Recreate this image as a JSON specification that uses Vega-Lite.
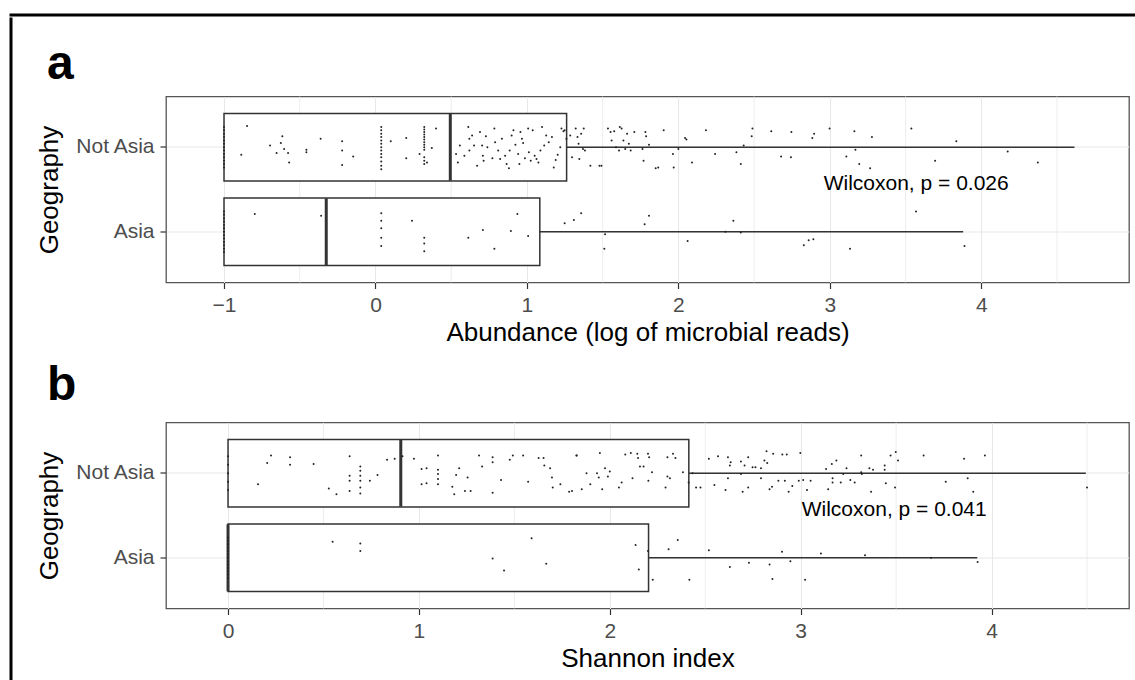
{
  "$schema": "https://vega.github.io/schema/vega-lite/v6.json",
  "background": "white",
  "padding": {"left": 8.5, "top": 12.5, "right": 0, "bottom": 0},
  "spacing": 0,
  "config": {
    "font": "Liberation Sans",
    "view": {"stroke": "#555555", "strokeWidth": 1.3},
    "axis": {
      "domain": false,
      "grid": true,
      "gridColor": "#e8e8e8",
      "gridWidth": 1.1,
      "tickColor": "#333333",
      "tickSize": 6,
      "tickWidth": 1.2,
      "labelColor": "#4d4d4d",
      "labelFontSize": 21,
      "labelPadding": 6,
      "titleFontSize": 26,
      "titleFontWeight": "normal",
      "titleColor": "black"
    }
  },
  "datasets": {
    "one": [{"k": 1}],
    "boxA": [
      {"g": "Not Asia", "q1": -1, "med": 0.494, "q3": 1.262, "hi": 4.615},
      {"g": "Asia", "q1": -1, "med": -0.325, "q3": 1.085, "hi": 3.88}
    ],
    "boxB": [
      {"g": "Not Asia", "q1": 0, "med": 0.905, "q3": 2.414, "hi": 4.494},
      {"g": "Asia", "q1": 0, "med": 0, "q3": 2.203, "hi": 3.925}
    ],
    "minorA": [{"v": -0.5}, {"v": 0.5}, {"v": 1.5}, {"v": 2.5}, {"v": 3.5}, {"v": 4.5}],
    "minorB": [{"v": 0.5}, {"v": 1.5}, {"v": 2.5}, {"v": 3.5}, {"v": 4.5}],
    "annA": [{"g": "Not Asia", "v": 3.57, "label": "Wilcoxon, p = 0.026"}],
    "annB": [{"g": "Not Asia", "v": 3.49, "label": "Wilcoxon, p = 0.041"}],
    "ptsA": [
      {"g": "Not Asia", "v": -1, "j": -0.24}, {"g": "Not Asia", "v": -1, "j": -0.2}, {"g": "Not Asia", "v": -1, "j": -0.16}, {"g": "Not Asia", "v": -1, "j": -0.12}, {"g": "Not Asia", "v": -1, "j": -0.08}, {"g": "Not Asia", "v": -1, "j": -0.04}, {"g": "Not Asia", "v": -1, "j": 0}, {"g": "Not Asia", "v": -1, "j": 0.04}, {"g": "Not Asia", "v": -1, "j": 0.08}, {"g": "Not Asia", "v": -1, "j": 0.12}, {"g": "Not Asia", "v": -1, "j": 0.16}, {"g": "Not Asia", "v": -1, "j": 0.2}, {"g": "Not Asia", "v": -1, "j": 0.24},
      {"g": "Not Asia", "v": -0.848, "j": -0.25}, {"g": "Not Asia", "v": -0.886, "j": 0.09}, {"g": "Not Asia", "v": -0.696, "j": -0.02}, {"g": "Not Asia", "v": -0.615, "j": -0.13}, {"g": "Not Asia", "v": -0.625, "j": -0.05}, {"g": "Not Asia", "v": -0.653, "j": 0.07}, {"g": "Not Asia", "v": -0.603, "j": 0.02}, {"g": "Not Asia", "v": -0.577, "j": 0.07}, {"g": "Not Asia", "v": -0.57, "j": 0.18}, {"g": "Not Asia", "v": -0.456, "j": 0.03}, {"g": "Not Asia", "v": -0.456, "j": 0.06}, {"g": "Not Asia", "v": -0.362, "j": -0.1}, {"g": "Not Asia", "v": -0.22, "j": -0.07}, {"g": "Not Asia", "v": -0.22, "j": 0.04}, {"g": "Not Asia", "v": -0.22, "j": 0.21}, {"g": "Not Asia", "v": -0.147, "j": 0.11},
      {"g": "Not Asia", "v": 0.038, "j": -0.24}, {"g": "Not Asia", "v": 0.038, "j": -0.2}, {"g": "Not Asia", "v": 0.038, "j": -0.16}, {"g": "Not Asia", "v": 0.038, "j": -0.12}, {"g": "Not Asia", "v": 0.038, "j": -0.08}, {"g": "Not Asia", "v": 0.038, "j": -0.04}, {"g": "Not Asia", "v": 0.038, "j": 0}, {"g": "Not Asia", "v": 0.038, "j": 0.04}, {"g": "Not Asia", "v": 0.038, "j": 0.08}, {"g": "Not Asia", "v": 0.038, "j": 0.12}, {"g": "Not Asia", "v": 0.038, "j": 0.17}, {"g": "Not Asia", "v": 0.038, "j": 0.22}, {"g": "Not Asia", "v": 0.038, "j": 0.26},
      {"g": "Not Asia", "v": 0.101, "j": -0.07}, {"g": "Not Asia", "v": 0.203, "j": -0.11}, {"g": "Not Asia", "v": 0.203, "j": 0.13}, {"g": "Not Asia", "v": 0.291, "j": 0.08},
      {"g": "Not Asia", "v": 0.322, "j": -0.24}, {"g": "Not Asia", "v": 0.322, "j": -0.21}, {"g": "Not Asia", "v": 0.322, "j": -0.18}, {"g": "Not Asia", "v": 0.322, "j": -0.15}, {"g": "Not Asia", "v": 0.322, "j": -0.12}, {"g": "Not Asia", "v": 0.322, "j": -0.09}, {"g": "Not Asia", "v": 0.322, "j": -0.06}, {"g": "Not Asia", "v": 0.322, "j": -0.03}, {"g": "Not Asia", "v": 0.322, "j": 0}, {"g": "Not Asia", "v": 0.322, "j": 0.03}, {"g": "Not Asia", "v": 0.322, "j": 0.12}, {"g": "Not Asia", "v": 0.322, "j": 0.16}, {"g": "Not Asia", "v": 0.322, "j": 0.2},
      {"g": "Not Asia", "v": 0.372, "j": 0.01}, {"g": "Not Asia", "v": 0.4, "j": -0.22}, {"g": "Not Asia", "v": 0.34, "j": 0.18},
      {"g": "Not Asia", "v": 0.532, "j": 0.08}, {"g": "Not Asia", "v": 0.544, "j": 0.18}, {"g": "Not Asia", "v": 0.557, "j": -0.02}, {"g": "Not Asia", "v": 0.613, "j": -0.24}, {"g": "Not Asia", "v": 0.62, "j": -0.1}, {"g": "Not Asia", "v": 0.62, "j": 0.04}, {"g": "Not Asia", "v": 0.638, "j": -0.14}, {"g": "Not Asia", "v": 0.651, "j": -0.02}, {"g": "Not Asia", "v": 0.704, "j": -0.02}, {"g": "Not Asia", "v": 0.709, "j": 0.1}, {"g": "Not Asia", "v": 0.714, "j": 0.16}, {"g": "Not Asia", "v": 0.729, "j": -0.13}, {"g": "Not Asia", "v": 0.739, "j": 0}, {"g": "Not Asia", "v": 0.785, "j": -0.22}, {"g": "Not Asia", "v": 0.79, "j": -0.06}, {"g": "Not Asia", "v": 0.81, "j": 0.04}, {"g": "Not Asia", "v": 0.823, "j": 0.14}, {"g": "Not Asia", "v": 0.856, "j": 0.1}, {"g": "Not Asia", "v": 0.866, "j": 0.2}, {"g": "Not Asia", "v": 0.881, "j": 0.25}, {"g": "Not Asia", "v": 0.899, "j": -0.14}, {"g": "Not Asia", "v": 0.911, "j": -0.2}, {"g": "Not Asia", "v": 0.924, "j": -0.03}, {"g": "Not Asia", "v": 0.942, "j": 0.08}, {"g": "Not Asia", "v": 0.957, "j": -0.18}, {"g": "Not Asia", "v": 0.967, "j": -0.1}, {"g": "Not Asia", "v": 0.975, "j": -0.05}, {"g": "Not Asia", "v": 0.987, "j": 0.13}, {"g": "Not Asia", "v": 1.008, "j": -0.22}, {"g": "Not Asia", "v": 1.013, "j": 0.06}, {"g": "Not Asia", "v": 1.025, "j": 0.16}, {"g": "Not Asia", "v": 1.038, "j": -0.2}, {"g": "Not Asia", "v": 1.051, "j": 0.1}, {"g": "Not Asia", "v": 1.063, "j": 0.14}, {"g": "Not Asia", "v": 1.076, "j": 0.18}, {"g": "Not Asia", "v": 1.114, "j": -0.02}, {"g": "Not Asia", "v": 1.127, "j": -0.14}, {"g": "Not Asia", "v": 1.144, "j": -0.06}, {"g": "Not Asia", "v": 1.165, "j": -0.12}, {"g": "Not Asia", "v": 1.177, "j": 0.24}, {"g": "Not Asia", "v": 1.203, "j": 0.09}, {"g": "Not Asia", "v": 1.228, "j": -0.22}, {"g": "Not Asia", "v": 1.241, "j": -0.19}, {"g": "Not Asia", "v": 1.261, "j": -0.1}, {"g": "Not Asia", "v": 0.671, "j": 0.22}, {"g": "Not Asia", "v": 0.835, "j": -0.1}, {"g": "Not Asia", "v": 0.587, "j": 0.1}, {"g": "Not Asia", "v": 0.772, "j": 0.13}, {"g": "Not Asia", "v": 0.886, "j": 0.04}, {"g": "Not Asia", "v": 1.089, "j": 0.04}, {"g": "Not Asia", "v": 1.22, "j": 0}, {"g": "Not Asia", "v": 0.95, "j": 0.2}, {"g": "Not Asia", "v": 1.1, "j": -0.24}, {"g": "Not Asia", "v": 0.69, "j": -0.18}, {"g": "Not Asia", "v": 1.19, "j": 0.15},
      {"g": "Not Asia", "v": 1.249, "j": -0.2}, {"g": "Not Asia", "v": 1.286, "j": -0.14}, {"g": "Not Asia", "v": 1.322, "j": -0.22}, {"g": "Not Asia", "v": 1.334, "j": -0.12}, {"g": "Not Asia", "v": 1.341, "j": -0.04}, {"g": "Not Asia", "v": 1.358, "j": -0.16}, {"g": "Not Asia", "v": 1.375, "j": -0.22}, {"g": "Not Asia", "v": 1.37, "j": 0.02}, {"g": "Not Asia", "v": 1.298, "j": 0.12}, {"g": "Not Asia", "v": 1.346, "j": 0.14}, {"g": "Not Asia", "v": 1.383, "j": 0.04}, {"g": "Not Asia", "v": 1.419, "j": 0.22}, {"g": "Not Asia", "v": 1.479, "j": 0.22}, {"g": "Not Asia", "v": 1.492, "j": 0.22}, {"g": "Not Asia", "v": 1.535, "j": -0.22}, {"g": "Not Asia", "v": 1.552, "j": -0.18}, {"g": "Not Asia", "v": 1.559, "j": -0.08}, {"g": "Not Asia", "v": 1.576, "j": -0.19}, {"g": "Not Asia", "v": 1.588, "j": 0}, {"g": "Not Asia", "v": 1.608, "j": 0.04}, {"g": "Not Asia", "v": 1.613, "j": -0.24}, {"g": "Not Asia", "v": 1.625, "j": -0.22}, {"g": "Not Asia", "v": 1.637, "j": -0.08}, {"g": "Not Asia", "v": 1.649, "j": 0.02}, {"g": "Not Asia", "v": 1.661, "j": -0.16}, {"g": "Not Asia", "v": 1.673, "j": -0.04}, {"g": "Not Asia", "v": 1.685, "j": 0.04}, {"g": "Not Asia", "v": 1.709, "j": -0.18}, {"g": "Not Asia", "v": 1.763, "j": 0.02}, {"g": "Not Asia", "v": 1.77, "j": 0.16}, {"g": "Not Asia", "v": 1.782, "j": -0.18}, {"g": "Not Asia", "v": 1.787, "j": -0.13}, {"g": "Not Asia", "v": 1.806, "j": -0.03}, {"g": "Not Asia", "v": 1.85, "j": 0.25}, {"g": "Not Asia", "v": 1.867, "j": 0.24}, {"g": "Not Asia", "v": 1.903, "j": -0.2}, {"g": "Not Asia", "v": 1.964, "j": 0.08}, {"g": "Not Asia", "v": 1.969, "j": 0.24}, {"g": "Not Asia", "v": 2.0, "j": 0.02}, {"g": "Not Asia", "v": 2.044, "j": -0.11}, {"g": "Not Asia", "v": 2.053, "j": -0.09}, {"g": "Not Asia", "v": 2.09, "j": 0.18}, {"g": "Not Asia", "v": 2.182, "j": -0.2}, {"g": "Not Asia", "v": 2.242, "j": 0.08}, {"g": "Not Asia", "v": 2.383, "j": 0.06}, {"g": "Not Asia", "v": 2.412, "j": 0.2}, {"g": "Not Asia", "v": 2.431, "j": -0.02}, {"g": "Not Asia", "v": 2.484, "j": -0.13}, {"g": "Not Asia", "v": 2.489, "j": -0.22}, {"g": "Not Asia", "v": 2.613, "j": -0.19}, {"g": "Not Asia", "v": 2.678, "j": 0.11}, {"g": "Not Asia", "v": 2.743, "j": 0.12}, {"g": "Not Asia", "v": 2.746, "j": -0.18}, {"g": "Not Asia", "v": 2.884, "j": -0.11}, {"g": "Not Asia", "v": 2.896, "j": -0.16}, {"g": "Not Asia", "v": 2.998, "j": -0.22}, {"g": "Not Asia", "v": 3.109, "j": 0.11}, {"g": "Not Asia", "v": 3.162, "j": -0.19}, {"g": "Not Asia", "v": 3.169, "j": 0.03}, {"g": "Not Asia", "v": 3.194, "j": 0.2}, {"g": "Not Asia", "v": 3.266, "j": 0.25}, {"g": "Not Asia", "v": 3.278, "j": -0.12}, {"g": "Not Asia", "v": 3.538, "j": -0.22}, {"g": "Not Asia", "v": 3.695, "j": 0.16}, {"g": "Not Asia", "v": 3.835, "j": -0.07}, {"g": "Not Asia", "v": 4.174, "j": 0.05}, {"g": "Not Asia", "v": 4.373, "j": 0.18},
      {"g": "Asia", "v": -1, "j": -0.24}, {"g": "Asia", "v": -1, "j": -0.2}, {"g": "Asia", "v": -1, "j": -0.16}, {"g": "Asia", "v": -1, "j": -0.12}, {"g": "Asia", "v": -1, "j": -0.08}, {"g": "Asia", "v": -1, "j": -0.04}, {"g": "Asia", "v": -1, "j": 0}, {"g": "Asia", "v": -1, "j": 0.04}, {"g": "Asia", "v": -1, "j": 0.08}, {"g": "Asia", "v": -1, "j": 0.12}, {"g": "Asia", "v": -1, "j": 0.16}, {"g": "Asia", "v": -1, "j": 0.2}, {"g": "Asia", "v": -1, "j": 0.24},
      {"g": "Asia", "v": -0.797, "j": -0.21}, {"g": "Asia", "v": -0.359, "j": -0.19}, {"g": "Asia", "v": 0.038, "j": -0.22}, {"g": "Asia", "v": 0.038, "j": -0.13}, {"g": "Asia", "v": 0.038, "j": -0.04}, {"g": "Asia", "v": 0.038, "j": 0.07}, {"g": "Asia", "v": 0.038, "j": 0.17}, {"g": "Asia", "v": 0.241, "j": -0.13}, {"g": "Asia", "v": 0.322, "j": 0.07}, {"g": "Asia", "v": 0.322, "j": 0.14}, {"g": "Asia", "v": 0.322, "j": 0.23}, {"g": "Asia", "v": 0.613, "j": 0.07}, {"g": "Asia", "v": 0.709, "j": -0.02}, {"g": "Asia", "v": 0.785, "j": 0.2}, {"g": "Asia", "v": 0.894, "j": -0.01}, {"g": "Asia", "v": 0.937, "j": -0.21}, {"g": "Asia", "v": 1.008, "j": 0.05},
      {"g": "Asia", "v": 1.249, "j": -0.1}, {"g": "Asia", "v": 1.31, "j": -0.14}, {"g": "Asia", "v": 1.358, "j": -0.22}, {"g": "Asia", "v": 1.516, "j": 0.03}, {"g": "Asia", "v": 1.511, "j": 0.2}, {"g": "Asia", "v": 1.777, "j": -0.09}, {"g": "Asia", "v": 1.806, "j": -0.19}, {"g": "Asia", "v": 2.061, "j": 0.11}, {"g": "Asia", "v": 2.31, "j": 0}, {"g": "Asia", "v": 2.363, "j": -0.13}, {"g": "Asia", "v": 2.412, "j": 0.01}, {"g": "Asia", "v": 2.828, "j": 0.16}, {"g": "Asia", "v": 2.86, "j": 0.1}, {"g": "Asia", "v": 2.891, "j": 0.09}, {"g": "Asia", "v": 3.133, "j": 0.2}, {"g": "Asia", "v": 3.569, "j": -0.24}, {"g": "Asia", "v": 3.889, "j": 0.17}
    ],
    "ptsB": [
      {"g": "Not Asia", "v": 0, "j": -0.2}, {"g": "Not Asia", "v": 0, "j": -0.1}, {"g": "Not Asia", "v": 0, "j": 0}, {"g": "Not Asia", "v": 0, "j": 0.1}, {"g": "Not Asia", "v": 0, "j": 0.2},
      {"g": "Not Asia", "v": 0.157, "j": 0.13}, {"g": "Not Asia", "v": 0.205, "j": -0.12}, {"g": "Not Asia", "v": 0.225, "j": -0.21}, {"g": "Not Asia", "v": 0.325, "j": -0.19}, {"g": "Not Asia", "v": 0.325, "j": -0.1}, {"g": "Not Asia", "v": 0.448, "j": -0.11}, {"g": "Not Asia", "v": 0.528, "j": 0.18}, {"g": "Not Asia", "v": 0.568, "j": 0.25}, {"g": "Not Asia", "v": 0.637, "j": -0.2}, {"g": "Not Asia", "v": 0.637, "j": 0.03}, {"g": "Not Asia", "v": 0.637, "j": 0.09}, {"g": "Not Asia", "v": 0.637, "j": 0.21}, {"g": "Not Asia", "v": 0.693, "j": -0.08}, {"g": "Not Asia", "v": 0.693, "j": -0.03}, {"g": "Not Asia", "v": 0.693, "j": 0.03}, {"g": "Not Asia", "v": 0.693, "j": 0.09}, {"g": "Not Asia", "v": 0.693, "j": 0.17}, {"g": "Not Asia", "v": 0.693, "j": 0.24}, {"g": "Not Asia", "v": 0.743, "j": 0.09}, {"g": "Not Asia", "v": 0.783, "j": 0.02}, {"g": "Not Asia", "v": 0.833, "j": -0.16}, {"g": "Not Asia", "v": 0.873, "j": -0.17}, {"g": "Not Asia", "v": 0.914, "j": -0.2}, {"g": "Not Asia", "v": 0.974, "j": -0.17}, {"g": "Not Asia", "v": 1.014, "j": -0.05}, {"g": "Not Asia", "v": 1.014, "j": 0.13}, {"g": "Not Asia", "v": 1.04, "j": -0.06}, {"g": "Not Asia", "v": 1.04, "j": 0.12}, {"g": "Not Asia", "v": 1.1, "j": -0.21}, {"g": "Not Asia", "v": 1.1, "j": -0.04}, {"g": "Not Asia", "v": 1.1, "j": 0.01}, {"g": "Not Asia", "v": 1.1, "j": 0.07}, {"g": "Not Asia", "v": 1.1, "j": 0.13}, {"g": "Not Asia", "v": 1.175, "j": 0.16}, {"g": "Not Asia", "v": 1.185, "j": 0.25}, {"g": "Not Asia", "v": 1.195, "j": 0.02}, {"g": "Not Asia", "v": 1.211, "j": -0.06}, {"g": "Not Asia", "v": 1.241, "j": 0.21}, {"g": "Not Asia", "v": 1.255, "j": 0.05}, {"g": "Not Asia", "v": 1.271, "j": 0.21}, {"g": "Not Asia", "v": 1.315, "j": -0.21}, {"g": "Not Asia", "v": 1.331, "j": -0.08}, {"g": "Not Asia", "v": 1.386, "j": -0.19}, {"g": "Not Asia", "v": 1.386, "j": -0.13}, {"g": "Not Asia", "v": 1.386, "j": 0.23}, {"g": "Not Asia", "v": 1.43, "j": 0.08}, {"g": "Not Asia", "v": 1.476, "j": -0.16}, {"g": "Not Asia", "v": 1.492, "j": -0.21}, {"g": "Not Asia", "v": 1.546, "j": -0.21}, {"g": "Not Asia", "v": 1.572, "j": 0.1}, {"g": "Not Asia", "v": 1.627, "j": -0.18}, {"g": "Not Asia", "v": 1.653, "j": -0.18}, {"g": "Not Asia", "v": 1.657, "j": -0.09}, {"g": "Not Asia", "v": 1.687, "j": -0.06}, {"g": "Not Asia", "v": 1.697, "j": 0.05}, {"g": "Not Asia", "v": 1.701, "j": 0.17}, {"g": "Not Asia", "v": 1.741, "j": 0.13}, {"g": "Not Asia", "v": 1.787, "j": 0.22}, {"g": "Not Asia", "v": 1.827, "j": -0.21}, {"g": "Not Asia", "v": 1.853, "j": 0.19}, {"g": "Not Asia", "v": 1.878, "j": 0}, {"g": "Not Asia", "v": 1.898, "j": 0.13}, {"g": "Not Asia", "v": 1.948, "j": -0.24},
      {"g": "Not Asia", "v": 1.802, "j": 0.21}, {"g": "Not Asia", "v": 1.825, "j": -0.21}, {"g": "Not Asia", "v": 1.933, "j": 0}, {"g": "Not Asia", "v": 1.942, "j": 0.05},
      {"g": "Not Asia", "v": 1.96, "j": 0.19}, {"g": "Not Asia", "v": 1.975, "j": -0.06}, {"g": "Not Asia", "v": 1.99, "j": 0.04}, {"g": "Not Asia", "v": 2.0, "j": -0.02}, {"g": "Not Asia", "v": 2.048, "j": 0.17}, {"g": "Not Asia", "v": 2.062, "j": 0.11}, {"g": "Not Asia", "v": 2.081, "j": -0.22}, {"g": "Not Asia", "v": 2.11, "j": -0.24}, {"g": "Not Asia", "v": 2.119, "j": 0.06}, {"g": "Not Asia", "v": 2.144, "j": -0.23}, {"g": "Not Asia", "v": 2.148, "j": -0.18}, {"g": "Not Asia", "v": 2.158, "j": -0.08}, {"g": "Not Asia", "v": 2.177, "j": -0.08}, {"g": "Not Asia", "v": 2.2, "j": -0.23}, {"g": "Not Asia", "v": 2.202, "j": 0.09}, {"g": "Not Asia", "v": 2.206, "j": -0.19}, {"g": "Not Asia", "v": 2.221, "j": -0.01}, {"g": "Not Asia", "v": 2.292, "j": 0.17}, {"g": "Not Asia", "v": 2.302, "j": -0.19}, {"g": "Not Asia", "v": 2.302, "j": 0.04}, {"g": "Not Asia", "v": 2.315, "j": 0.06}, {"g": "Not Asia", "v": 2.331, "j": -0.23}, {"g": "Not Asia", "v": 2.344, "j": -0.18}, {"g": "Not Asia", "v": 2.383, "j": -0.01}, {"g": "Not Asia", "v": 2.413, "j": 0.11}, {"g": "Not Asia", "v": 2.433, "j": 0}, {"g": "Not Asia", "v": 2.452, "j": 0.17}, {"g": "Not Asia", "v": 2.475, "j": 0.17}, {"g": "Not Asia", "v": 2.519, "j": -0.17}, {"g": "Not Asia", "v": 2.548, "j": 0.14}, {"g": "Not Asia", "v": 2.567, "j": -0.2}, {"g": "Not Asia", "v": 2.606, "j": 0.2}, {"g": "Not Asia", "v": 2.619, "j": -0.19}, {"g": "Not Asia", "v": 2.619, "j": 0.06}, {"g": "Not Asia", "v": 2.629, "j": -0.09}, {"g": "Not Asia", "v": 2.633, "j": -0.13}, {"g": "Not Asia", "v": 2.687, "j": -0.14}, {"g": "Not Asia", "v": 2.687, "j": 0.01}, {"g": "Not Asia", "v": 2.696, "j": 0.22}, {"g": "Not Asia", "v": 2.706, "j": -0.09}, {"g": "Not Asia", "v": 2.725, "j": -0.19}, {"g": "Not Asia", "v": 2.725, "j": 0.17}, {"g": "Not Asia", "v": 2.748, "j": -0.07}, {"g": "Not Asia", "v": 2.763, "j": -0.07}, {"g": "Not Asia", "v": 2.792, "j": -0.06}, {"g": "Not Asia", "v": 2.792, "j": 0.06}, {"g": "Not Asia", "v": 2.81, "j": -0.15}, {"g": "Not Asia", "v": 2.821, "j": -0.26}, {"g": "Not Asia", "v": 2.825, "j": -0.12}, {"g": "Not Asia", "v": 2.837, "j": 0.19}, {"g": "Not Asia", "v": 2.85, "j": 0.16}, {"g": "Not Asia", "v": 2.856, "j": -0.23}, {"g": "Not Asia", "v": 2.883, "j": 0.09}, {"g": "Not Asia", "v": 2.904, "j": -0.22}, {"g": "Not Asia", "v": 2.917, "j": 0.09}, {"g": "Not Asia", "v": 2.927, "j": -0.22}, {"g": "Not Asia", "v": 2.937, "j": 0.22}, {"g": "Not Asia", "v": 2.956, "j": 0.15}, {"g": "Not Asia", "v": 2.99, "j": 0.09}, {"g": "Not Asia", "v": 2.998, "j": -0.24}, {"g": "Not Asia", "v": 3.013, "j": 0.08}, {"g": "Not Asia", "v": 3.033, "j": 0.2}, {"g": "Not Asia", "v": 3.052, "j": 0.09}, {"g": "Not Asia", "v": 3.133, "j": -0.05}, {"g": "Not Asia", "v": 3.144, "j": 0.19}, {"g": "Not Asia", "v": 3.163, "j": -0.11}, {"g": "Not Asia", "v": 3.167, "j": 0.06}, {"g": "Not Asia", "v": 3.167, "j": 0.11}, {"g": "Not Asia", "v": 3.187, "j": -0.15}, {"g": "Not Asia", "v": 3.21, "j": 0.11}, {"g": "Not Asia", "v": 3.223, "j": 0.01}, {"g": "Not Asia", "v": 3.24, "j": -0.06}, {"g": "Not Asia", "v": 3.26, "j": 0.08}, {"g": "Not Asia", "v": 3.283, "j": 0.11}, {"g": "Not Asia", "v": 3.317, "j": -0.21}, {"g": "Not Asia", "v": 3.317, "j": -0.01}, {"g": "Not Asia", "v": 3.321, "j": 0.01}, {"g": "Not Asia", "v": 3.36, "j": -0.06}, {"g": "Not Asia", "v": 3.369, "j": 0.22}, {"g": "Not Asia", "v": 3.379, "j": -0.04}, {"g": "Not Asia", "v": 3.44, "j": -0.09}, {"g": "Not Asia", "v": 3.44, "j": -0.04}, {"g": "Not Asia", "v": 3.446, "j": 0.12}, {"g": "Not Asia", "v": 3.471, "j": -0.21}, {"g": "Not Asia", "v": 3.494, "j": 0.17}, {"g": "Not Asia", "v": 3.498, "j": -0.25}, {"g": "Not Asia", "v": 3.51, "j": -0.15}, {"g": "Not Asia", "v": 3.644, "j": -0.21}, {"g": "Not Asia", "v": 3.76, "j": 0.1}, {"g": "Not Asia", "v": 3.856, "j": -0.17}, {"g": "Not Asia", "v": 3.875, "j": 0.06}, {"g": "Not Asia", "v": 3.904, "j": 0.22}, {"g": "Not Asia", "v": 3.965, "j": -0.21}, {"g": "Not Asia", "v": 4.5, "j": 0.17},
      {"g": "Asia", "v": 0, "j": -0.24}, {"g": "Asia", "v": 0, "j": -0.2}, {"g": "Asia", "v": 0, "j": -0.16}, {"g": "Asia", "v": 0, "j": -0.12}, {"g": "Asia", "v": 0, "j": -0.08}, {"g": "Asia", "v": 0, "j": -0.04}, {"g": "Asia", "v": 0, "j": 0}, {"g": "Asia", "v": 0, "j": 0.04}, {"g": "Asia", "v": 0, "j": 0.08}, {"g": "Asia", "v": 0, "j": 0.12}, {"g": "Asia", "v": 0, "j": 0.16}, {"g": "Asia", "v": 0, "j": 0.2}, {"g": "Asia", "v": 0, "j": 0.24},
      {"g": "Asia", "v": 0.548, "j": -0.19}, {"g": "Asia", "v": 0.693, "j": -0.17}, {"g": "Asia", "v": 0.693, "j": -0.08}, {"g": "Asia", "v": 1.386, "j": 0.01}, {"g": "Asia", "v": 1.446, "j": 0.15}, {"g": "Asia", "v": 1.59, "j": -0.23}, {"g": "Asia", "v": 1.667, "j": 0.07},
      {"g": "Asia", "v": 2.135, "j": -0.15}, {"g": "Asia", "v": 2.152, "j": 0.14}, {"g": "Asia", "v": 2.2, "j": -0.08}, {"g": "Asia", "v": 2.225, "j": 0.26}, {"g": "Asia", "v": 2.308, "j": -0.1}, {"g": "Asia", "v": 2.356, "j": -0.21}, {"g": "Asia", "v": 2.417, "j": 0.26}, {"g": "Asia", "v": 2.519, "j": -0.09}, {"g": "Asia", "v": 2.629, "j": 0.11}, {"g": "Asia", "v": 2.729, "j": 0.06}, {"g": "Asia", "v": 2.837, "j": 0.08}, {"g": "Asia", "v": 2.852, "j": 0.25}, {"g": "Asia", "v": 2.902, "j": -0.07}, {"g": "Asia", "v": 2.946, "j": 0.04}, {"g": "Asia", "v": 3.023, "j": 0.26}, {"g": "Asia", "v": 3.106, "j": -0.05}, {"g": "Asia", "v": 3.337, "j": -0.03}, {"g": "Asia", "v": 3.683, "j": 0}, {"g": "Asia", "v": 3.927, "j": 0.05}
    ]
  },
  "vconcat": [
    {
      "width": 1127,
      "height": 3,
      "view": {"fill": "black", "stroke": null},
      "data": {"name": "one"},
      "mark": {"type": "rule", "opacity": 0},
      "encoding": {}
    },
    {
      "spacing": 22.5,
      "hconcat": [
        {
          "width": 3,
          "height": 670,
          "view": {"fill": "black", "stroke": null},
          "data": {"name": "one"},
          "mark": {"type": "rule", "opacity": 0},
          "encoding": {}
        },
        {
          "spacing": 14,
          "vconcat": [
            {
              "width": 10,
              "height": 7.5,
              "view": {"fill": null, "stroke": null},
              "data": {"name": "one"},
              "mark": {"type": "rule", "opacity": 0},
              "encoding": {}
            },
            {
              "width": 963,
              "height": 186,
              "title": {"text": "a", "anchor": "start", "frame": "group", "fontSize": 48, "fontWeight": "bold", "baseline": "alphabetic", "offset": -31, "dx": -119, "color": "black"},
              "resolve": {"scale": {"yOffset": "independent"}},
              "layer": [
                {
                  "data": {"name": "minorA"},
                  "mark": {"type": "rule", "color": "#e8e8e8", "strokeWidth": 0.8},
                  "encoding": {
                    "x": {"field": "v", "type": "quantitative", "scale": {"domain": [-1.383, 4.975], "nice": false, "zero": false},
                          "axis": {"values": [-1, 0, 1, 2, 3, 4], "format": "d", "title": "Abundance (log of microbial reads)", "titlePadding": 4}}
                  }
                },
                {
                  "data": {"name": "boxA"},
                  "mark": {"type": "rule", "color": "#333333", "strokeWidth": 1.4},
                  "encoding": {
                    "x": {"field": "q3", "type": "quantitative"},
                    "x2": {"field": "hi"},
                    "y": {"field": "g", "type": "nominal", "sort": ["Not Asia", "Asia"], "scale": {"type": "band", "paddingInner": 0.2, "paddingOuter": 0.2},
                          "axis": {"title": "Geography", "bandPosition": 0.5, "titlePadding": 12}}
                  }
                },
                {
                  "data": {"name": "boxA"},
                  "mark": {"type": "bar", "fill": "white", "stroke": "#333333", "strokeWidth": 1.5},
                  "encoding": {
                    "x": {"field": "q1", "type": "quantitative"},
                    "x2": {"field": "q3"},
                    "y": {"field": "g", "type": "nominal", "sort": ["Not Asia", "Asia"]}
                  }
                },
                {
                  "data": {"name": "boxA"},
                  "mark": {"type": "tick", "color": "#333333", "size": 67, "thickness": 3, "opacity": 1},
                  "encoding": {
                    "x": {"field": "med", "type": "quantitative"},
                    "y": {"field": "g", "type": "nominal", "sort": ["Not Asia", "Asia"]}
                  }
                },
                {
                  "data": {"name": "ptsA"},
                  "mark": {"type": "circle", "color": "#222222", "size": 4, "opacity": 1},
                  "encoding": {
                    "x": {"field": "v", "type": "quantitative"},
                    "y": {"field": "g", "type": "nominal", "sort": ["Not Asia", "Asia"]},
                    "yOffset": {"field": "j", "type": "quantitative", "scale": {"domain": [-0.4, 0.4], "range": [0, 67.6]}}
                  }
                },
                {
                  "data": {"name": "annA"},
                  "mark": {"type": "text", "fontSize": 21, "color": "black", "align": "center", "baseline": "middle", "dy": 37},
                  "encoding": {
                    "x": {"field": "v", "type": "quantitative"},
                    "y": {"field": "g", "type": "nominal", "sort": ["Not Asia", "Asia"]},
                    "text": {"field": "label"}
                  }
                }
              ]
            },
            {
              "width": 963,
              "height": 186,
              "title": {"text": "b", "anchor": "start", "frame": "group", "fontSize": 48, "fontWeight": "bold", "baseline": "alphabetic", "offset": -26, "dx": -119, "color": "black"},
              "resolve": {"scale": {"yOffset": "independent"}},
              "layer": [
                {
                  "data": {"name": "minorB"},
                  "mark": {"type": "rule", "color": "#e8e8e8", "strokeWidth": 0.8},
                  "encoding": {
                    "x": {"field": "v", "type": "quantitative", "scale": {"domain": [-0.325, 4.72], "nice": false, "zero": false},
                          "axis": {"values": [0, 1, 2, 3, 4], "format": "d", "title": "Shannon index", "titlePadding": 4}}
                  }
                },
                {
                  "data": {"name": "boxB"},
                  "mark": {"type": "rule", "color": "#333333", "strokeWidth": 1.4},
                  "encoding": {
                    "x": {"field": "q3", "type": "quantitative"},
                    "x2": {"field": "hi"},
                    "y": {"field": "g", "type": "nominal", "sort": ["Not Asia", "Asia"], "scale": {"type": "band", "paddingInner": 0.2, "paddingOuter": 0.2},
                          "axis": {"title": "Geography", "bandPosition": 0.5, "titlePadding": 12}}
                  }
                },
                {
                  "data": {"name": "boxB"},
                  "mark": {"type": "bar", "fill": "white", "stroke": "#333333", "strokeWidth": 1.5},
                  "encoding": {
                    "x": {"field": "q1", "type": "quantitative"},
                    "x2": {"field": "q3"},
                    "y": {"field": "g", "type": "nominal", "sort": ["Not Asia", "Asia"]}
                  }
                },
                {
                  "data": {"name": "boxB"},
                  "mark": {"type": "tick", "color": "#333333", "size": 67, "thickness": 3, "opacity": 1},
                  "encoding": {
                    "x": {"field": "med", "type": "quantitative"},
                    "y": {"field": "g", "type": "nominal", "sort": ["Not Asia", "Asia"]}
                  }
                },
                {
                  "data": {"name": "ptsB"},
                  "mark": {"type": "circle", "color": "#222222", "size": 4, "opacity": 1},
                  "encoding": {
                    "x": {"field": "v", "type": "quantitative"},
                    "y": {"field": "g", "type": "nominal", "sort": ["Not Asia", "Asia"]},
                    "yOffset": {"field": "j", "type": "quantitative", "scale": {"domain": [-0.4, 0.4], "range": [0, 67.6]}}
                  }
                },
                {
                  "data": {"name": "annB"},
                  "mark": {"type": "text", "fontSize": 21, "color": "black", "align": "center", "baseline": "middle", "dy": 37},
                  "encoding": {
                    "x": {"field": "v", "type": "quantitative"},
                    "y": {"field": "g", "type": "nominal", "sort": ["Not Asia", "Asia"]},
                    "text": {"field": "label"}
                  }
                }
              ]
            }
          ]
        }
      ]
    }
  ]
}
